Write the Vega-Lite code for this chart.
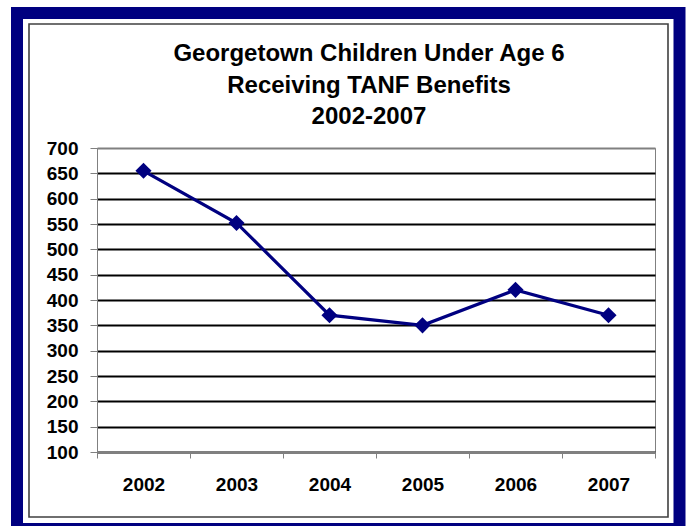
{
  "$schema": "https://vega.github.io/schema/vega-lite/v6.json",
  "width": 558,
  "height": 304,
  "autosize": {"type": "none"},
  "padding": {"left": 97, "top": 148, "right": 34, "bottom": 74},
  "background": "white",
  "config": {
    "font": "Liberation Sans",
    "view": {"stroke": "#808080", "strokeWidth": 1}
  },
  "title": {
    "text": ["Georgetown Children Under Age 6", "Receiving TANF Benefits", "2002-2007"],
    "fontSize": 24,
    "fontWeight": "bold",
    "lineHeight": 31.5,
    "anchor": "middle",
    "frame": "group",
    "dx": -7,
    "dy": 122,
    "offset": 0,
    "color": "black"
  },
  "data": {
    "values": [
      {"year": "2002", "children": 655},
      {"year": "2003", "children": 552},
      {"year": "2004", "children": 370},
      {"year": "2005", "children": 350},
      {"year": "2006", "children": 420},
      {"year": "2007", "children": 370}
    ]
  },
  "encoding": {
    "x": {
      "field": "year",
      "type": "ordinal",
      "scale": {"type": "band", "paddingInner": 0, "paddingOuter": 0},
      "axis": {
        "title": null,
        "labelAngle": 0,
        "labelFontSize": 19,
        "labelFontWeight": "bold",
        "labelColor": "black",
        "labelPadding": 17,
        "tickBand": "extent",
        "tickSize": 6,
        "tickColor": "#808080",
        "domainColor": "#808080",
        "grid": false
      }
    },
    "y": {
      "field": "children",
      "type": "quantitative",
      "scale": {"domain": [100, 700], "nice": false, "zero": false},
      "axis": {
        "title": null,
        "values": [100, 150, 200, 250, 300, 350, 400, 450, 500, 550, 600, 650, 700],
        "labelFontSize": 19,
        "labelFontWeight": "bold",
        "labelColor": "black",
        "labelPadding": 12,
        "tickSize": 7,
        "tickColor": "#808080",
        "domainColor": "#808080",
        "grid": true,
        "gridColor": {"condition": {"test": "datum.value === 700", "value": "#808080"}, "value": "black"},
        "gridWidth": 1.8,
        "gridOpacity": 1
      }
    }
  },
  "layer": [
    {
      "data": {"values": [{"frame": "outer"}]},
      "mark": {"type": "rect", "fill": "white", "fillOpacity": 0, "stroke": "#000080", "strokeWidth": 12},
      "encoding": {
        "x": {"value": -80},
        "x2": {"value": 582.5},
        "y": {"value": -135},
        "y2": {"value": 381}
      }
    },
    {
      "data": {"values": [{"frame": "inner"}]},
      "mark": {"type": "rect", "fill": "white", "fillOpacity": 0, "stroke": "#404040", "strokeWidth": 1.6},
      "encoding": {
        "x": {"value": -68},
        "x2": {"value": 571},
        "y": {"value": -124},
        "y2": {"value": 369}
      }
    },
    {
      "mark": {"type": "line", "color": "#000080", "strokeWidth": 3.2}
    },
    {
      "mark": {"type": "point", "shape": "diamond", "filled": true, "size": 260, "color": "#000080", "opacity": 1}
    }
  ]
}
